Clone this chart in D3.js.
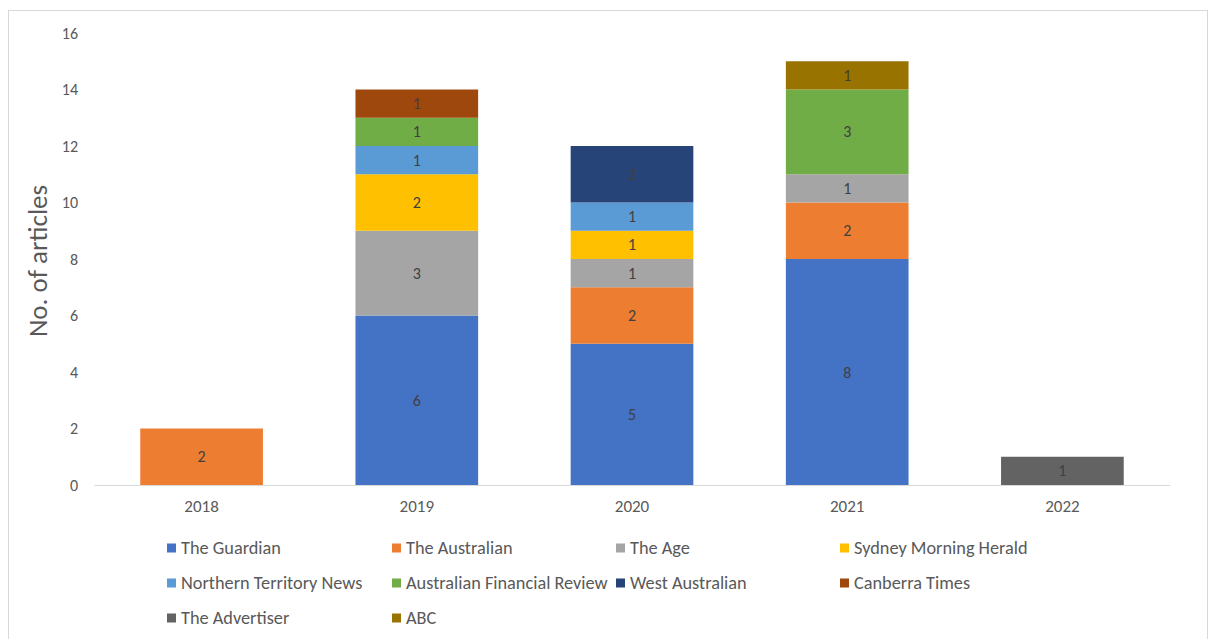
<!DOCTYPE html>
<html><head><meta charset="utf-8">
<script src="https://cdn.jsdelivr.net/npm/d3@7"></script>
<style>body{margin:0;background:#fff;font-family:Carlito,Lato,sans-serif;}</style>
</head><body><svg id="c" width="1210" height="639"></svg>
<script>
const years = ["2018","2019","2020","2021","2022"];
const seriesNames = ["The Guardian","The Australian","The Age","Sydney Morning Herald","Northern Territory News","Australian Financial Review","West Australian","Canberra Times","The Advertiser","ABC"];
const seriesColors = ["#4472c4","#ed7d31","#a5a5a5","#ffc000","#5b9bd5","#70ad47","#264478","#9e480e","#636363","#997300"];
const guardian   = [0,6,5,8,0];
const australian = [2,0,2,2,0];
const theAge     = [0,3,1,1,0];
const smh        = [0,2,1,0,0];
const ntNews     = [0,1,1,0,0];
const afr        = [0,1,0,3,0];
const westAus    = [0,0,2,0,0];
const canberra   = [0,1,0,0,0];
const advertiser = [0,0,0,0,1];
const abc        = [0,0,0,1,0];
const yTicks = [0,2,4,6,8,10,12,14,16];

const FONT = "Carlito,Lato,sans-serif";
const seriesValues = [guardian,australian,theAge,smh,ntNews,afr,westAus,canberra,advertiser,abc];
const table = years.map((y,i)=>{const o={year:y}; seriesNames.forEach((s,j)=>o[s]=seriesValues[j][i]); return o;});
const stacked = d3.stack().keys(seriesNames)(table);

const svg = d3.select("#c");
svg.append("rect").attr("x",8.5).attr("y",10.5).attr("width",1199).attr("height",640).attr("fill","#fff").attr("stroke","#d9d9d9");

const x = d3.scaleBand().domain(years).range([94,1170]).paddingInner(0.43).paddingOuter(0.215);
const y = d3.scaleLinear().domain([0,16]).range([485,33]);

// y tick labels
const ya = svg.append("g").attr("transform","translate(78,0)").call(d3.axisLeft(y).tickValues(yTicks).tickSize(0).tickPadding(0));
ya.select(".domain").remove();
ya.selectAll("text").attr("font-size",16).attr("fill","#595959").attr("font-family",FONT);

// bars
const g = svg.append("g");
stacked.forEach((layer,j)=>{
  layer.forEach((d,i)=>{
    const v = d[1]-d[0];
    if(v<=0) return;
    g.append("rect").attr("x",x(years[i])).attr("width",x.bandwidth())
      .attr("y",y(d[1])).attr("height",y(d[0])-y(d[1])).attr("fill",seriesColors[j]);
    g.append("text").attr("x",x(years[i])+x.bandwidth()/2).attr("y",(y(d[0])+y(d[1]))/2)
      .attr("dy","0.35em").attr("text-anchor","middle").attr("font-size",16).attr("fill","#404040").text(v);
  });
});

// x axis
const xa = svg.append("g").attr("transform","translate(0,485)").call(d3.axisBottom(x).tickSize(0).tickPadding(15));
xa.select(".domain").attr("stroke","#d9d9d9").attr("stroke-width",1.2);
xa.selectAll("text").attr("font-size",17).attr("fill","#595959").attr("font-family",FONT);

// y title
svg.append("text").attr("transform","translate(47,261) rotate(-90)").attr("text-anchor","middle")
  .attr("font-size",27).attr("fill","#595959").text("No. of articles");

// legend
const colX = [167,392,616,840];
const rowY = [548,583,618];
seriesNames.forEach((s,i)=>{
  const cx = colX[i%4], cy = rowY[Math.floor(i/4)];
  svg.append("rect").attr("x",cx).attr("y",cy-4.5).attr("width",9).attr("height",9).attr("fill",seriesColors[i]);
  svg.append("text").attr("x",cx+14).attr("y",cy).attr("dy","0.35em").attr("font-size",18.3).attr("fill","#595959").text(s);
});
</script></body></html>
